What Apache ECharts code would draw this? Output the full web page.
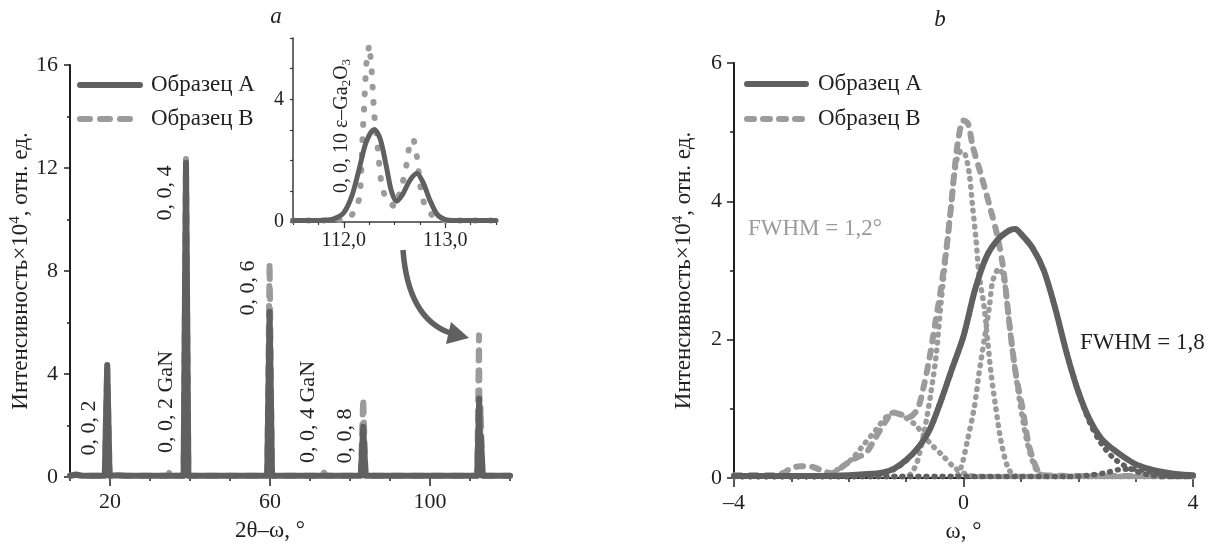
<!DOCTYPE html>
<html><head><meta charset="utf-8">
<script src="https://cdn.jsdelivr.net/npm/echarts@6/dist/echarts.min.js"></script>
<style>html,body{margin:0;padding:0;background:#fff}#c{width:1206px;height:543px}</style>
</head><body><div id="c"></div>
<script>
// ---------------- DATA ----------------
const seriesNames = ['Образец А', 'Образец В'];

// panel a: 2θ–ω scan  [2θ, intensity×10^4]
const leftA = [[10,0.05],[11.5,0.09],[13,0.05],[18.7,0.05],[19.3,4.35],[19.9,0.05],[22,0.07],[24,0.05],[38.4,0.05],[39.0,12.2],[39.6,0.05],
  [59.3,0.05],[59.9,6.42],[60.5,0.05],[82.7,0.05],[83.3,1.95],[83.9,0.05],[111.8,0.05],[112.3,3.05],[112.5,0.7],[112.7,1.6],[113.2,0.05],[120,0.05]];
const leftB = [[10,0.05],[11.5,0.1],[13,0.05],[18.7,0.05],[19.3,4.2],[19.9,0.05],[34.4,0.05],[35.0,0.22],[35.6,0.05],[38.4,0.05],[39.0,12.35],[39.6,0.05],
  [59.3,0.05],[59.9,8.33],[60.5,0.05],[72.9,0.05],[73.5,0.17],[74.1,0.05],[82.7,0.05],[83.3,3.05],[83.9,0.05],[111.8,0.05],[112.25,5.5],[112.45,0.5],[112.65,2.7],[113.1,0.05],[120,0.05]];

// inset: 0,0,10 ε-Ga2O3 reflection
const insetA = [[111.5,0.05],[111.8,0.06],[111.9,0.1],[112.0,0.3],[112.08,0.85],[112.15,1.7],[112.22,2.6],[112.3,3.02],[112.36,2.7],[112.42,1.8],
  [112.47,1.0],[112.52,0.68],[112.58,0.9],[112.65,1.35],[112.72,1.58],[112.78,1.3],[112.85,0.7],[112.92,0.25],[113.0,0.08],[113.1,0.05],[113.5,0.05]];
const insetB = [[111.5,0.05],[111.9,0.05],[112.06,0.12],[112.13,0.5],[112.16,0.85],[112.17,1.5],[112.18,2.3],[112.19,3.1],[112.2,3.7],[112.21,4.4],
  [112.22,5.1],[112.25,5.78],[112.27,5.2],[112.28,4.66],[112.3,3.5],[112.33,2.6],[112.35,1.86],[112.37,1.26],[112.41,0.77],[112.5,0.49],[112.55,0.93],
  [112.6,1.54],[112.63,2.08],[112.65,2.63],[112.69,2.69],[112.72,2.14],[112.76,1.04],[112.8,0.49],[112.9,0.11],[113.0,0.05],[113.5,0.05]];

// panel b: ω rocking curves
const rightA = [[-4,0.03],[-3.5,0.03],[-3,0.03],[-2.5,0.03],[-2,0.04],[-1.6,0.06],[-1.4,0.08],[-1.2,0.14],[-1.0,0.26],[-0.8,0.43],[-0.6,0.68],
  [-0.4,1.1],[-0.2,1.58],[0,2.05],[0.2,2.72],[0.4,3.2],[0.6,3.45],[0.8,3.58],[0.9,3.6],[1.0,3.53],[1.2,3.33],[1.4,3.0],[1.6,2.45],[1.8,1.8],
  [2.0,1.25],[2.2,0.84],[2.4,0.57],[2.6,0.42],[2.8,0.3],[3.0,0.2],[3.2,0.14],[3.4,0.1],[3.6,0.07],[3.8,0.05],[4.0,0.04]];
const rightAFit1 = [[-4,0.02],[-2,0.02],[-1.6,0.05],[-1.4,0.07],[-1.2,0.13],[-1.0,0.25],[-0.8,0.43],[-0.6,0.68],[-0.4,1.1],[-0.2,1.58],[0,2.05],
  [0.2,2.72],[0.4,3.2],[0.6,3.45],[0.8,3.58],[0.9,3.6],[1.0,3.53],[1.2,3.33],[1.4,3.0],[1.6,2.45],[1.8,1.8],[2.0,1.25],[2.2,0.8],[2.4,0.5],
  [2.6,0.3],[2.8,0.18],[3.0,0.1],[3.2,0.05],[3.5,0.02],[4,0.02]];
const rightAFit2 = [[-4,0.02],[1.8,0.02],[2.2,0.04],[2.5,0.08],[2.7,0.12],[2.95,0.13],[3.2,0.1],[3.45,0.05],[3.7,0.02],[4,0.02]];
const rightB = [[-4,0.04],[-3.3,0.04],[-3.15,0.07],[-3.0,0.14],[-2.85,0.17],[-2.63,0.16],[-2.45,0.1],[-2.3,0.07],[-2.15,0.14],[-2.0,0.23],
  [-1.85,0.3],[-1.7,0.36],[-1.53,0.59],[-1.35,0.83],[-1.24,0.95],[-1.1,0.92],[-0.95,0.88],[-0.8,1.0],[-0.7,1.3],[-0.6,1.7],[-0.5,2.2],
  [-0.4,2.7],[-0.3,3.3],[-0.22,3.9],[-0.15,4.5],[-0.08,4.95],[0,5.17],[0.08,5.12],[0.16,4.8],[0.3,4.4],[0.45,3.95],[0.59,3.5],[0.68,3.1],
  [0.74,2.7],[0.8,2.23],[0.91,1.51],[1.03,1.0],[1.12,0.55],[1.2,0.3],[1.3,0.1],[1.4,0.04],[2,0.03],[3,0.03],[4,0.03]];
const rightBFit1 = [[-4,0.02],[-1.0,0.02],[-0.9,0.08],[-0.8,0.25],[-0.68,0.69],[-0.57,1.22],[-0.48,1.75],[-0.4,2.47],[-0.31,3.19],[-0.22,3.91],
  [-0.13,4.55],[-0.05,4.72],[0.02,4.7],[0.1,4.4],[0.16,3.91],[0.22,3.43],[0.27,2.95],[0.36,2.47],[0.42,1.99],[0.48,1.51],[0.56,1.03],
  [0.65,0.55],[0.77,0.16],[0.9,0.03],[1.2,0.02],[4,0.02]];
const rightBFit2 = [[-4,0.02],[-0.15,0.02],[-0.04,0.16],[0.07,0.55],[0.19,1.03],[0.27,1.51],[0.36,1.99],[0.45,2.47],[0.51,2.85],[0.62,3.03],
  [0.71,2.85],[0.77,2.45],[0.83,2.0],[0.91,1.5],[1.0,1.0],[1.1,0.55],[1.2,0.25],[1.3,0.08],[1.45,0.02],[4,0.02]];
const rightBFit3 = [[-4,0.02],[-2.6,0.02],[-2.35,0.06],[-2.12,0.16],[-1.94,0.28],[-1.77,0.45],[-1.53,0.69],[-1.35,0.88],[-1.2,0.95],
  [-1.06,0.9],[-0.83,0.76],[-0.6,0.52],[-0.37,0.33],[-0.14,0.14],[0.09,0.04],[0.3,0.02],[4,0.02]];

// tick labels
const leftXTickLabels = [20, 60, 100];
const insetXTickLabels = [112, 113];
const insetYTickLabels = [0, 4];
const rightXTickLabels = [-4, 0, 4];

// ---------------- STYLE ----------------
const F = '"Liberation Serif", "Times New Roman", serif';
const C = '#231f20';
const DARK = '#606060';
const LIGHT = '#9b9b9b';

const lbl = (size, extra) => Object.assign({fontSize: size, fontFamily: F, color: C}, extra || {});
const axLine = (w, col) => ({show: true, onZero: false, lineStyle: {color: col || C, width: w}});
const yName = '{a|Интенсивность×10}{s|4}{a|, отн. ед.}';
const yNameStyle = {rich: {a: lbl(23, {lineHeight: 26}), s: lbl(15, {lineHeight: 15, verticalAlign: 'top'})}};

const chart = echarts.init(document.getElementById('c'), null, {renderer: 'canvas'});

const base = {type: 'line', showSymbol: false, symbol: 'none', silent: true, animation: false, emphasis: {disabled: true}};
const solid = (col, w) => ({color: col, width: w, cap: 'round', join: 'round'});
const dashed = (col, w, d) => ({color: col, width: w, type: d, cap: 'round', join: 'round'});
const DOTS = [0.8, 7.2];

const option = {
  animation: false,
  backgroundColor: '#fff',
  grid: [
    {left: 70, top: 65, width: 440, height: 412, containLabel: false, outerBoundsMode: 'none'},
    {left: 293, top: 38, width: 203, height: 184, containLabel: false, outerBoundsMode: 'none'},
    {left: 734, top: 63, width: 459, height: 415, containLabel: false, outerBoundsMode: 'none'}
  ],
  xAxis: [
    {gridIndex: 0, type: 'value', min: 10, max: 120, interval: 10, position: 'bottom',
      axisLine: axLine(2), axisTick: {length: 4, lineStyle: {color: C, width: 1.5}},
      axisLabel: {customValues: leftXTickLabels, margin: 14, fontSize: 22, fontFamily: F, color: C},
      splitLine: {show: false},
      name: '2θ–ω, °', nameLocation: 'middle', nameGap: 42,
      nameTextStyle: lbl(23, {padding: [0, 40, 0, 0]})},
    {gridIndex: 0, type: 'value', min: 10, max: 120, position: 'bottom',
      axisLine: {show: false, onZero: false}, axisTick: {customValues: leftXTickLabels, length: 9, lineStyle: {color: C, width: 1.5}},
      axisLabel: {show: false}, splitLine: {show: false}},
    {gridIndex: 1, type: 'value', min: 111.5, max: 113.5, interval: 0.25, position: 'bottom',
      axisLine: axLine(1.5, '#3a3a3a'), axisTick: {length: 3, lineStyle: {color: '#3a3a3a', width: 1.2}},
      axisLabel: {customValues: insetXTickLabels, margin: 9, fontSize: 20, fontFamily: F, color: C,
        formatter: v => v.toFixed(1).replace('.', ',')},
      splitLine: {show: false}},
    {gridIndex: 1, type: 'value', min: 111.5, max: 113.5, position: 'bottom',
      axisLine: {show: false, onZero: false}, axisTick: {customValues: insetXTickLabels, length: 6, lineStyle: {color: '#3a3a3a', width: 1.2}},
      axisLabel: {show: false}, splitLine: {show: false}},
    {gridIndex: 2, type: 'value', min: -4, max: 4, interval: 4, position: 'bottom',
      axisLine: axLine(2), axisTick: {length: 9, lineStyle: {color: C, width: 1.5}},
      minorTick: {show: true, splitNumber: 4, length: 4, lineStyle: {color: C, width: 1.5}},
      axisLabel: {customValues: rightXTickLabels, margin: 14, fontSize: 22, fontFamily: F, color: C,
        formatter: v => v < 0 ? '–' + Math.abs(v) : String(v)},
      splitLine: {show: false}, minorSplitLine: {show: false},
      name: 'ω, °', nameLocation: 'middle', nameGap: 42, nameTextStyle: lbl(23)}
  ],
  yAxis: [
    {gridIndex: 0, type: 'value', min: 0, max: 16, interval: 4, position: 'left',
      axisLine: axLine(2), axisTick: {length: 6, lineStyle: {color: C, width: 1.5}},
      minorTick: {show: true, splitNumber: 2, length: 3, lineStyle: {color: C, width: 1.5}},
      axisLabel: {margin: 12, fontSize: 22, fontFamily: F, color: C},
      splitLine: {show: false}, minorSplitLine: {show: false},
      name: yName, nameLocation: 'middle', nameGap: 33, nameTextStyle: yNameStyle},
    {gridIndex: 1, type: 'value', min: 0, max: 6, interval: 1, position: 'left',
      axisLine: axLine(1.5, '#3a3a3a'), axisTick: {length: 3, lineStyle: {color: '#3a3a3a', width: 1.2}},
      axisLabel: {customValues: insetYTickLabels, margin: 9, fontSize: 20, fontFamily: F, color: C},
      splitLine: {show: false}},
    {gridIndex: 2, type: 'value', min: 0, max: 6, interval: 2, position: 'left',
      axisLine: axLine(2), axisTick: {length: 7, lineStyle: {color: C, width: 1.5}},
      minorTick: {show: true, splitNumber: 2, length: 4, lineStyle: {color: C, width: 1.5}},
      axisLabel: {margin: 12, fontSize: 22, fontFamily: F, color: C},
      splitLine: {show: false}, minorSplitLine: {show: false},
      name: yName, nameLocation: 'middle', nameGap: 37, nameTextStyle: yNameStyle}
  ],
  legend: [
    {data: seriesNames, left: 72, top: 68, orient: 'vertical', itemWidth: 60, itemHeight: 14, itemGap: 10,
      selectedMode: false, textStyle: lbl(23, {lineHeight: 24, padding: [0, 0, 0, 6]}),
      lineStyle: {width: 'inherit'}, itemStyle: {opacity: 0}},
    {data: seriesNames.map(n => n + '\u200B'), left: 739, top: 67, orient: 'vertical', itemWidth: 59, itemHeight: 14, itemGap: 11,
      selectedMode: false, textStyle: lbl(23, {lineHeight: 24, padding: [0, 0, 0, 7]}),
      formatter: n => n.replace('\u200B', ''),
      lineStyle: {width: 'inherit'}, itemStyle: {opacity: 0}}
  ],
  series: [
    // panel a main
    Object.assign({}, base, {name: seriesNames[1], xAxisIndex: 0, yAxisIndex: 0, data: leftB, z: 2,
      lineStyle: dashed(LIGHT, 6, [10, 10])}),
    Object.assign({}, base, {name: seriesNames[0], xAxisIndex: 0, yAxisIndex: 0, data: leftA, z: 3,
      lineStyle: solid(DARK, 6)}),
    // inset
    Object.assign({}, base, {name: 'insetB', xAxisIndex: 2, yAxisIndex: 1, data: insetB, z: 4,
      lineStyle: dashed(LIGHT, 6, [0.8, 14.5])}),
    Object.assign({}, base, {name: 'insetA', xAxisIndex: 2, yAxisIndex: 1, data: insetA, z: 5, smooth: 0.3,
      lineStyle: solid(DARK, 5)}),
    // panel b
    Object.assign({}, base, {name: seriesNames[1] + '\u200B', xAxisIndex: 4, yAxisIndex: 2, data: rightB, z: 2, smooth: 0.3,
      lineStyle: dashed(LIGHT, 6, [7, 9])}),
    Object.assign({}, base, {name: 'bfit1', xAxisIndex: 4, yAxisIndex: 2, data: rightBFit1, z: 3, smooth: 0.3,
      lineStyle: dashed(LIGHT, 5.5, DOTS)}),
    Object.assign({}, base, {name: 'bfit2', xAxisIndex: 4, yAxisIndex: 2, data: rightBFit2, z: 3, smooth: 0.3,
      lineStyle: dashed(LIGHT, 5.5, DOTS)}),
    Object.assign({}, base, {name: 'bfit3', xAxisIndex: 4, yAxisIndex: 2, data: rightBFit3, z: 3, smooth: 0.3,
      lineStyle: dashed(LIGHT, 5.5, DOTS)}),
    Object.assign({}, base, {name: seriesNames[0] + '\u200B', xAxisIndex: 4, yAxisIndex: 2, data: rightA, z: 4, smooth: 0.3,
      lineStyle: solid(DARK, 6)}),
    Object.assign({}, base, {name: 'afit1', xAxisIndex: 4, yAxisIndex: 2, data: rightAFit1, z: 5, smooth: 0.3,
      lineStyle: dashed(DARK, 5.5, DOTS)}),
    Object.assign({}, base, {name: 'afit2', xAxisIndex: 4, yAxisIndex: 2, data: rightAFit2, z: 5, smooth: 0.3,
      lineStyle: dashed(DARK, 5.5, DOTS)})
  ],
  graphic: [
    {type: 'text', x: 276, y: 17, style: {text: 'a', fontSize: 23, fontStyle: 'italic', fontFamily: F, fill: C, align: 'center', verticalAlign: 'middle'}},
    {type: 'text', x: 940, y: 20, style: {text: 'b', fontSize: 23, fontStyle: 'italic', fontFamily: F, fill: C, align: 'center', verticalAlign: 'middle'}},
    // peak labels (rotated)
    {type: 'text', x: 89, y: 428, rotation: Math.PI / 2, style: {text: '0, 0, 2', fontSize: 22, fontFamily: F, fill: C, align: 'center', verticalAlign: 'middle'}},
    {type: 'text', x: 166, y: 402, rotation: Math.PI / 2, style: {text: '0, 0, 2 GaN', fontSize: 22, fontFamily: F, fill: C, align: 'center', verticalAlign: 'middle'}},
    {type: 'text', x: 165, y: 193, rotation: Math.PI / 2, style: {text: '0, 0, 4', fontSize: 22, fontFamily: F, fill: C, align: 'center', verticalAlign: 'middle'}},
    {type: 'text', x: 248, y: 288, rotation: Math.PI / 2, style: {text: '0, 0, 6', fontSize: 22, fontFamily: F, fill: C, align: 'center', verticalAlign: 'middle'}},
    {type: 'text', x: 308, y: 412, rotation: Math.PI / 2, style: {text: '0, 0, 4 GaN', fontSize: 22, fontFamily: F, fill: C, align: 'center', verticalAlign: 'middle'}},
    {type: 'text', x: 345, y: 436, rotation: Math.PI / 2, style: {text: '0, 0, 8', fontSize: 22, fontFamily: F, fill: C, align: 'center', verticalAlign: 'middle'}},
    {type: 'text', x: 342, y: 126, rotation: Math.PI / 2, z: 10, style: {
      text: '{a|0, 0, 10 ε–Ga}{s|2}{a|O}{s|3}', align: 'center', verticalAlign: 'middle',
      rich: {a: {fontSize: 20, fontFamily: F, fill: C, lineHeight: 22}, s: {fontSize: 13, fontFamily: F, fill: C, lineHeight: 14, verticalAlign: 'bottom'}}}},
    // arrow
    {type: 'bezierCurve', shape: {x1: 403, y1: 250, cpx1: 408, cpy1: 318, x2: 450, y2: 333},
      style: {stroke: DARK, lineWidth: 5.5, fill: null, lineCap: 'butt'}},
    {type: 'polygon', shape: {points: [[451, 322], [446, 344], [469, 338]]}, style: {fill: DARK}},
    // FWHM labels
    {type: 'text', x: 748, y: 229, style: {text: 'FWHM = 1,2°', fontSize: 23, fontFamily: F, fill: LIGHT, align: 'left', verticalAlign: 'middle'}},
    {type: 'text', x: 1080, y: 343, style: {text: 'FWHM = 1,8°', fontSize: 23, fontFamily: F, fill: C, align: 'left', verticalAlign: 'middle'}}
  ]
};
chart.setOption(option);
</script></body></html>
